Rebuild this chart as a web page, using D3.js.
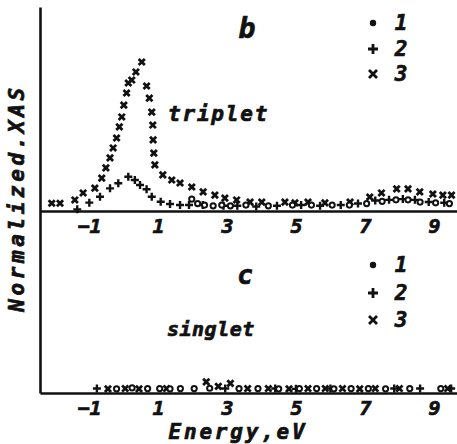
<!DOCTYPE html>
<html><head><meta charset="utf-8">
<script src="https://cdn.jsdelivr.net/npm/d3@7/dist/d3.min.js"></script>
<style>
html,body{margin:0;padding:0;background:#fff;}
svg text{font-family:"DejaVu Sans Mono",monospace;font-weight:bold;font-style:oblique;fill:#111;stroke:#111;stroke-width:0.7px;}
</style></head>
<body>
<svg id="chart" width="457" height="444"></svg>
<script>
// ---------- data ----------
const xTicks = [-1, 1, 3, 5, 7, 9];
const seriesNames = ["1", "2", "3"];
// Panel b (triplet): energy (eV) and normalized XAS
const tripE1 = [1.98, 2.15, 2.35, 2.6, 2.85, 3.1, 3.55, 4.2, 4.9, 5.45, 6.05, 6.55, 7.05, 7.5, 7.9, 8.25, 8.6, 9.05, 9.45];
const tripV1 = [0.08, 0.05, 0.04, 0.035, 0.04, 0.035, 0.04, 0.035, 0.04, 0.04, 0.04, 0.04, 0.05, 0.065, 0.075, 0.075, 0.06, 0.055, 0.05];
const tripE2 = [-1.34, -0.99, -0.68, -0.39, -0.15, 0.14, 0.33, 0.48, 0.67, 0.82, 1.08, 1.35, 1.64, 1.9, 2.3, 2.9, 3.3, 3.85, 4.45, 5.15, 5.7, 6.3, 6.8, 7.3, 7.7, 8.1, 8.45, 8.85, 9.3];
const tripV2 = [0.011, 0.056, 0.096, 0.152, 0.186, 0.23, 0.208, 0.174, 0.146, 0.096, 0.062, 0.047, 0.04, 0.04, 0.04, 0.035, 0.035, 0.03, 0.035, 0.04, 0.035, 0.04, 0.05, 0.07, 0.075, 0.08, 0.075, 0.06, 0.055];
const tripE3 = [-2.08, -1.84, -1.41, -1.17, -0.83, -0.63, -0.51, -0.39, -0.30, -0.20, -0.12, -0.05, 0.01, 0.09, 0.14, 0.24, 0.36, 0.53, 0.67, 0.75, 0.82, 0.85, 0.86, 0.88, 0.91, 1.14, 1.40, 1.64, 1.98, 2.31, 2.65, 2.94, 3.28, 3.67, 4.01, 4.68, 4.97, 5.35, 5.84, 6.57, 7.14, 7.48, 7.92, 8.25, 8.59, 8.97, 9.26, 9.51];
const tripV3 = [0.052, 0.052, 0.074, 0.121, 0.154, 0.221, 0.289, 0.356, 0.423, 0.490, 0.564, 0.631, 0.711, 0.792, 0.859, 0.879, 0.933, 1.0, 0.839, 0.758, 0.664, 0.577, 0.477, 0.389, 0.309, 0.242, 0.208, 0.188, 0.161, 0.128, 0.107, 0.087, 0.074, 0.060, 0.060, 0.060, 0.054, 0.060, 0.054, 0.060, 0.094, 0.121, 0.148, 0.148, 0.128, 0.114, 0.107, 0.107];
// Panel c (singlet)
const singE1 = [-0.2, 0.25, 0.7, 1.05, 1.35, 1.65, 2.05, 2.5, 3.35, 3.9, 4.5, 5.1, 5.6, 6.1, 6.6, 7.1, 7.6, 8.3, 9.2];
const singV1 = [0.028, 0.035, 0.03, 0.03, 0.028, 0.03, 0.03, 0.032, 0.03, 0.03, 0.028, 0.03, 0.03, 0.028, 0.03, 0.03, 0.028, 0.03, 0.03];
const singE2 = [-0.77, 2.95, 4.4, 5.0, 6.0, 7.85, 8.6, 9.5];
const singV2 = [0.03, 0.03, 0.03, 0.028, 0.03, 0.03, 0.03, 0.03];
const singE3 = [-0.45, 0.05, 0.45, 1.25, 2.4, 2.75, 3.1, 3.6, 4.2, 4.8, 5.35, 5.85, 6.35, 6.85, 7.3, 8.0, 9.4];
const singV3 = [0.028, 0.03, 0.028, 0.03, 0.075, 0.045, 0.065, 0.03, 0.03, 0.028, 0.03, 0.03, 0.03, 0.028, 0.03, 0.03, 0.03];

// ---------- scales ----------
const svg = d3.select("#chart");
const x = d3.scaleLinear().domain([-2.42, 9.67]).range([40, 457]);
const yTop = d3.scaleLinear().domain([0, 1]).range([211, 62]);
const yBot = d3.scaleLinear().domain([0, 1]).range([393, 244]);
const yAxisScale = d3.scaleLinear().domain([0, 1]).range([393, 7]);

// ---------- axes ----------
function styleAxis(g){
  g.select(".domain").attr("stroke", "#111").attr("stroke-width", 2.6);
  g.selectAll(".tick line").remove();
  g.selectAll(".tick text").attr("font-size", 20).attr("fill", "#111")
    .attr("font-family", "'DejaVu Sans Mono',monospace").attr("font-weight", "bold").attr("font-style", "oblique");
}
const fmt = d => (d < 0 ? "\u2212" + Math.abs(d) : String(d));
svg.append("g").attr("transform", "translate(0,211)")
  .call(d3.axisBottom(x).tickValues(xTicks).tickSize(0).tickSizeOuter(0).tickPadding(8).tickFormat(fmt))
  .call(styleAxis);
svg.append("g").attr("transform", "translate(0,393)")
  .call(d3.axisBottom(x).tickValues(xTicks).tickSize(0).tickSizeOuter(0).tickPadding(8).tickFormat(fmt))
  .call(styleAxis);
svg.append("g").attr("transform", "translate(40,0)")
  .call(d3.axisLeft(yAxisScale).tickValues([]).tickSizeOuter(0))
  .call(g => g.select(".domain").attr("stroke", "#111").attr("stroke-width", 2.6));

// ---------- markers ----------
function drawDots(E, V, y){
  svg.append("g").selectAll("circle").data(E.map((e, i) => [e, V[i]])).join("circle")
    .attr("cx", d => x(d[0])).attr("cy", d => y(d[1])).attr("r", 2.6)
    .attr("fill", "#fff").attr("stroke", "#111").attr("stroke-width", 2);
}
function drawPlus(E, V, y){
  const s = 4;
  svg.append("g").selectAll("path").data(E.map((e, i) => [e, V[i]])).join("path")
    .attr("d", d => { const cx = x(d[0]), cy = y(d[1]);
      return `M${cx - s},${cy}H${cx + s}M${cx},${cy - s}V${cy + s}`; })
    .attr("stroke", "#111").attr("stroke-width", 2.4).attr("fill", "none");
}
function drawCross(E, V, y){
  const s = 3.1;
  svg.append("g").selectAll("path").data(E.map((e, i) => [e, V[i]])).join("path")
    .attr("d", d => { const cx = x(d[0]), cy = y(d[1]);
      return `M${cx - s},${cy - s}L${cx + s},${cy + s}M${cx + s},${cy - s}L${cx - s},${cy + s}`; })
    .attr("stroke", "#111").attr("stroke-width", 2.8).attr("fill", "none");
}
drawCross(tripE3, tripV3, yTop);
drawPlus(tripE2, tripV2, yTop);
drawDots(tripE1, tripV1, yTop);
drawCross(singE3, singV3, yBot);
drawPlus(singE2, singV2, yBot);
drawDots(singE1, singV1, yBot);

// ---------- legends ----------
function legend(rowsY){
  const lx = 373, tx = 401;
  svg.append("circle").attr("cx", lx).attr("cy", rowsY[0]).attr("r", 3.2).attr("fill", "#111");
  svg.append("path").attr("d", `M${lx - 5},${rowsY[1]}H${lx + 5}M${lx},${rowsY[1] - 5}V${rowsY[1] + 5}`)
    .attr("stroke", "#111").attr("stroke-width", 2.8);
  svg.append("path").attr("d", `M${lx - 4},${rowsY[2] - 4}L${lx + 4},${rowsY[2] + 4}M${lx + 4},${rowsY[2] - 4}L${lx - 4},${rowsY[2] + 4}`)
    .attr("stroke", "#111").attr("stroke-width", 2.8);
  seriesNames.forEach((n, i) => {
    svg.append("text").attr("x", tx).attr("y", rowsY[i] + 7).attr("text-anchor", "middle")
      .attr("font-size", 21).text(n);
  });
}
legend([23, 49, 74]);
legend([265, 293, 320]);

// ---------- labels ----------
svg.append("text").attr("x", 247).attr("y", 38).attr("text-anchor", "middle").attr("font-size", 28).text("b");
svg.append("text").attr("x", 245).attr("y", 284).attr("text-anchor", "middle").attr("font-size", 26).text("c");
svg.append("text").attr("x", 168).attr("y", 121).attr("font-size", 21).attr("letter-spacing", 1.8).text("triplet");
svg.append("text").attr("x", 167).attr("y", 336).attr("font-size", 20).attr("letter-spacing", 0.5).text("singlet");
svg.append("text").attr("x", 238).attr("y", 439).attr("text-anchor", "middle").attr("font-size", 21).attr("letter-spacing", 2.8).text("Energy,eV");
svg.append("text").attr("transform", "translate(24,198) rotate(-90)").attr("text-anchor", "middle")
  .attr("font-size", 21).attr("letter-spacing", 3.6).text("Normalized.XAS");
</script>
</body></html>
